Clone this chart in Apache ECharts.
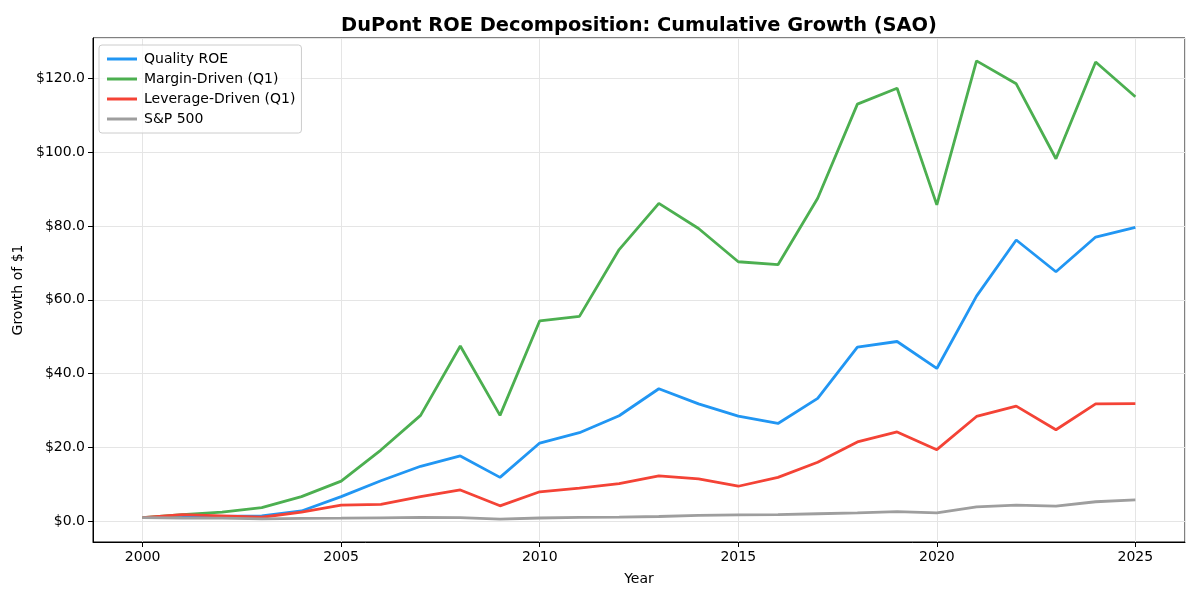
<!DOCTYPE html>
<html>
<head>
<meta charset="utf-8">
<script src="https://cdn.jsdelivr.net/npm/echarts@6/dist/echarts.min.js"></script>
<style>
  html, body { margin: 0; padding: 0; background: #fff; }
  #main { width: 1200px; height: 600px; }
</style>
</head>
<body>
<div id="main"></div>
<script>
// 年份与各组合累计增长
var years = [2000, 2001, 2002, 2003, 2004, 2005, 2006, 2007, 2008, 2009, 2010, 2011, 2012,
             2013, 2014, 2015, 2016, 2017, 2018, 2019, 2020, 2021, 2022, 2023, 2024, 2025];
var qualityRoe = [1.0, 1.2, 1.3, 1.5, 2.8, 6.7, 11.0, 14.9, 17.7, 11.9, 21.2, 24.0, 28.6,
                  35.9, 31.8, 28.5, 26.5, 33.3, 47.2, 48.7, 41.4, 61.0, 76.2, 67.6, 77.0, 79.6];
var marginDriven = [1.0, 1.8, 2.5, 3.7, 6.7, 10.9, 19.3, 28.7, 47.5, 28.7, 54.3, 55.5, 73.6,
                    86.1, 79.3, 70.3, 69.5, 87.5, 113.0, 117.3, 85.7, 124.7, 118.5, 98.2, 124.4, 115.0];
var leverageDriven = [1.0, 1.8, 1.5, 1.1, 2.5, 4.4, 4.6, 6.7, 8.5, 4.2, 8.0, 9.0, 10.2,
                      12.3, 11.5, 9.5, 11.9, 16.0, 21.5, 24.2, 19.4, 28.4, 31.2, 24.8, 31.8, 31.9];
var sp500 = [1.0, 0.9, 0.85, 0.65, 0.8, 0.85, 0.95, 1.05, 1.0, 0.6, 0.9, 1.05, 1.15,
             1.3, 1.6, 1.75, 1.8, 2.05, 2.3, 2.6, 2.3, 3.9, 4.4, 4.1, 5.3, 5.8];

var names = ['Quality ROE', 'Margin-Driven (Q1)', 'Leverage-Driven (Q1)', 'S&P 500'];
var colors = ['#2196F3', '#4CAF50', '#F44336', '#9E9E9E'];
var values = [qualityRoe, marginDriven, leverageDriven, sp500];

var chart = echarts.init(document.getElementById('main'));

function pairs(arr) {
    return years.map(function (y, i) { return [y, arr[i]]; });
}

var series = values.map(function (arr, i) {
    return {
        name: names[i],
        type: 'line',
        data: pairs(arr),
        showSymbol: false,
        symbol: 'none',
        lineStyle: { width: 2.8, color: colors[i] },
        itemStyle: { color: colors[i] },
        animation: false,
        z: 2 + i
    };
});

var font = 'DejaVu Sans';

var option = {
    backgroundColor: '#fff',
    animation: false,
    color: colors,
    title: {
        text: 'DuPont ROE Decomposition: Cumulative Growth (SAO)',
        left: 634,
        textAlign: 'center',
        top: 11,
        textStyle: {
            fontFamily: font,
            fontSize: 19.4,
            fontWeight: 'bold',
            color: '#000'
        }
    },
    legend: {
        data: names,
        orient: 'vertical',
        left: 99,
        top: 45,
        padding: [6, 6, 6, 8],
        itemGap: 4,
        itemWidth: 30,
        itemHeight: 3,
        icon: 'rect',
        backgroundColor: 'rgba(255,255,255,0.8)',
        borderColor: '#cccccc',
        borderWidth: 1,
        borderRadius: 3,
        textStyle: {
            fontFamily: font,
            fontSize: 14,
            color: '#000',
            lineHeight: 16,
            padding: [0, 0, 0, 2]
        }
    },
    grid: {
        left: 93,
        right: 15,
        top: 38,
        bottom: 58,
        show: true,
        borderColor: '#000',
        borderWidth: 1,
        backgroundColor: 'transparent'
    },
    xAxis: {
        type: 'value',
        min: 1998.75,
        max: 2026.25,
        splitNumber: 5,
        name: 'Year',
        nameLocation: 'middle',
        nameGap: 30,
        nameTextStyle: { fontFamily: font, fontSize: 14, color: '#000' },
        axisLine: { show: true, onZero: false, lineStyle: { color: '#000', width: 1 } },
        axisTick: { show: true, length: 5, lineStyle: { color: '#000' } },
        axisLabel: {
            fontFamily: font,
            fontSize: 14,
            color: '#000',
            margin: 8,
            showMinLabel: false,
            showMaxLabel: false,
            formatter: function (v) {
                return v % 5 === 0 ? String(v) : '';
            }
        },
        splitLine: { show: true, lineStyle: { color: '#e5e5e5', width: 1 } }
    },
    yAxis: {
        type: 'value',
        min: -5.6,
        max: 130.9,
        splitNumber: 7,
        name: 'Growth of $1',
        nameLocation: 'middle',
        nameGap: 67,
        nameRotate: 90,
        nameTextStyle: { fontFamily: font, fontSize: 14, color: '#000' },
        axisLine: { show: true, onZero: false, lineStyle: { color: '#000', width: 1 } },
        axisTick: { show: true, length: 5, lineStyle: { color: '#000' } },
        axisLabel: {
            fontFamily: font,
            fontSize: 14,
            color: '#000',
            margin: 8,
            showMinLabel: false,
            showMaxLabel: false,
            formatter: function (v) {
                return Math.abs(v % 20) < 1e-6 ? '$' + v.toFixed(1) : '';
            }
        },
        splitLine: { show: true, lineStyle: { color: '#e5e5e5', width: 1 } }
    },
    series: series
};

chart.setOption(option);
window.addEventListener('resize', function () {
    chart.resize();
});
</script>
</body>
</html>
